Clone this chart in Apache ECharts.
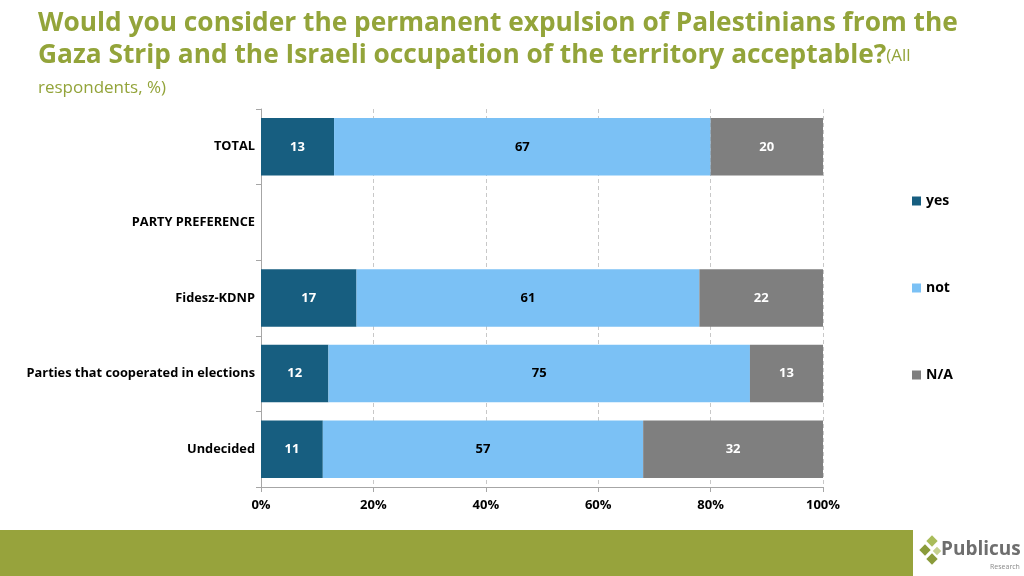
<!DOCTYPE html>
<html><head><meta charset="utf-8">
<script src="https://cdn.jsdelivr.net/npm/echarts@6/dist/echarts.min.js"></script>
<style>html,body{margin:0;padding:0;background:#fff}#c{width:1024px;height:576px}</style>
</head><body><div id="c"></div>
<script>
const categories = ['TOTAL', 'PARTY PREFERENCE', 'Fidesz-KDNP', 'Parties that cooperated in elections', 'Undecided'];
const yesValues = [13, null, 17, 12, 11];
const notValues = [67, null, 61, 75, 57];
const naValues = [20, null, 22, 13, 32];
const seriesNames = ['yes', 'not', 'N/A'];
const xTicks = [0, 20, 40, 60, 80, 100];

const colors = ['#175E80', '#7BC1F5', '#7F7F7F'];
const labelColors = ['#ffffff', '#000000', '#ffffff'];
const font = 'Open Sans';
const chart = echarts.init(document.getElementById('c'), null, {renderer: 'canvas'});
const vals = [yesValues, notValues, naValues];
const series = seriesNames.map((n, i) => ({
  name: n, type: 'bar', stack: 'a', barCategoryGap: '24%',
  data: vals[i],
  itemStyle: {color: colors[i]},
  label: {show: true, position: 'inside', color: labelColors[i], fontWeight: 'bold', fontSize: 13, fontFamily: font,
    formatter: p => (p.value == null ? '' : p.value)}
}));
chart.setOption({
  animation: false,
  title: {
    left: 33, top: 3,
    text: '{b|Would you consider the permanent expulsion of Palestinians from the}\n{b|Gaza Strip and the Israeli occupation of the territory acceptable?}{s|(All}\n{s|respondents, %)}',
    textStyle: {
      rich: {
        b: {fontFamily: font, fontWeight: 'bold', fontSize: 26.3, color: '#93A43A', lineHeight: 32},
        s: {fontFamily: font, fontWeight: 'normal', fontSize: 17, color: '#93A43A', lineHeight: 32}
      }
    }
  },
  legend: {
    orient: 'vertical', left: 907, top: 189, itemWidth: 9, itemHeight: 9, itemGap: 73,
    icon: 'rect',
    textStyle: {fontFamily: font, fontWeight: 'bold', fontSize: 14, color: '#000'},
    data: seriesNames
  },
  grid: {left: 261, right: 201, top: 109, bottom: 89, containLabel: false},
  xAxis: {
    type: 'value', min: 0, max: 100, interval: 20,
    axisLine: {show: true, lineStyle: {color: '#A6A6A6'}},
    axisTick: {show: true, length: 5, lineStyle: {color: '#A6A6A6'}},
    splitLine: {show: true, lineStyle: {color: '#C8C8C8', type: [4, 3]}},
    axisLabel: {formatter: v => xTicks.includes(v) ? v + '%' : '', fontFamily: font, fontWeight: 'bold', fontSize: 13, color: '#000', margin: 12}
  },
  yAxis: {
    type: 'category', data: categories, inverse: true,
    axisLine: {show: true, lineStyle: {color: '#A6A6A6'}},
    axisTick: {show: true, length: 5, lineStyle: {color: '#A6A6A6'}},
    axisLabel: {fontFamily: font, fontWeight: 'bold', fontSize: 12.8, color: '#000', margin: 6}
  },
  series: series,
  graphic: [
    {type: 'rect', shape: {x: 0, y: 530, width: 913, height: 46}, style: {fill: '#97A33C'}},
    {type: 'rect', shape: {x: -4, y: -4, width: 8, height: 8}, x: 932, y: 541, rotation: Math.PI / 4, style: {fill: '#A9BC5A'}},
    {type: 'rect', shape: {x: -4, y: -4, width: 8, height: 8}, x: 925, y: 550, rotation: Math.PI / 4, style: {fill: '#8A9B3A'}},
    {type: 'rect', shape: {x: -3, y: -3, width: 6, height: 6}, x: 937, y: 551, rotation: Math.PI / 4, style: {fill: '#C5D08E'}},
    {type: 'rect', shape: {x: -4, y: -4, width: 8, height: 8}, x: 932, y: 559, rotation: Math.PI / 4, style: {fill: '#8A9B3A'}},
    {type: 'text', x: 941, y: 540, style: {text: 'Publicus', fontFamily: font, fontWeight: 'bold', fontSize: 19, fill: '#6E6E6E'}},
    {type: 'text', x: 990, y: 563, style: {text: 'Research', fontFamily: font, fontSize: 7, fill: '#8A8A8A'}}
  ]
});
</script></body></html>
